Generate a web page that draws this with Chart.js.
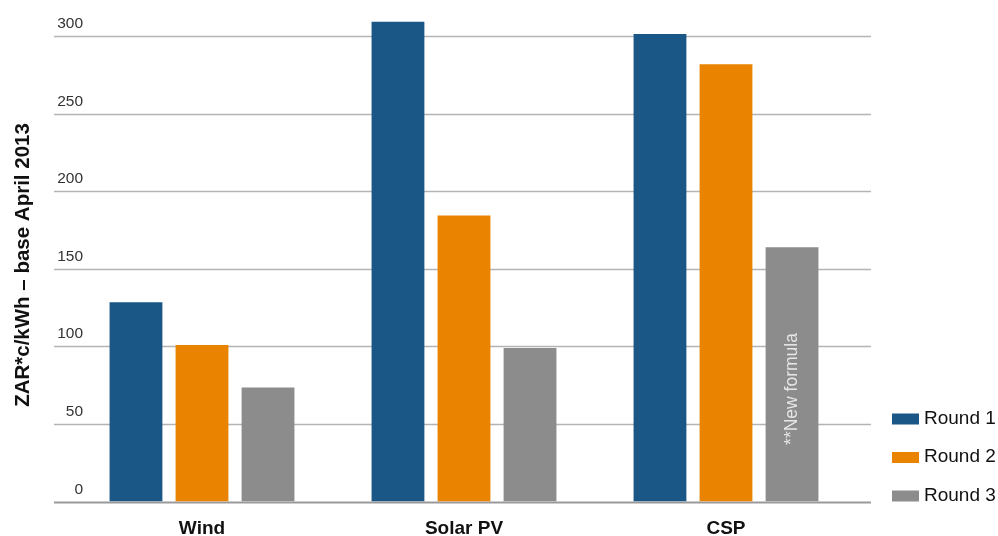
<!DOCTYPE html>
<html>
<head>
<meta charset="utf-8">
<script src="https://cdn.jsdelivr.net/npm/chart.js@4"></script>
<style>
  html, body { margin: 0; padding: 0; background: #fff; }
  #wrap { width: 998px; height: 536px; }
</style>
</head>
<body>
<div id="wrap"><canvas id="barChart" width="998" height="536"></canvas></div>
<script>
// data
const categories = ['Wind', 'Solar PV', 'CSP'];
const seriesNames = ['Round 1', 'Round 2', 'Round 3'];
const round1 = [128.5, 309.5, 301.5];
const round2 = [101, 184.5, 282];
const round3 = [73.5, 99, 164];
const yTicks = [0, 50, 100, 150, 200, 250, 300];
const yTitle = 'ZAR*c/kWh – base April 2013';
const barNote = '**New formula';

const colours = ['#1a5787', '#e98300', '#8c8c8d'];
const FONT = '"Liberation Sans", Arial, sans-serif';

// gridlines, tick labels, axis title, legend and note
const extras = {
    id: 'extras',
    beforeDatasetsDraw(chart) {
        const ctx = chart.ctx;
        const y = chart.scales.y;
        ctx.save();
        yTicks.forEach(v => {
            const py = Math.round(y.getPixelForValue(v)) + 0.5;
            ctx.strokeStyle = v === 0 ? '#9a9a9a' : '#b4b4b4';
            ctx.lineWidth = v === 0 ? 2 : 1.5;
            ctx.beginPath();
            ctx.moveTo(54, py);
            ctx.lineTo(871, py);
            ctx.stroke();
            ctx.fillStyle = '#333';
            ctx.font = '15.5px ' + FONT;
            ctx.textBaseline = 'alphabetic';
            ctx.textAlign = 'right';
            ctx.fillText(String(v), 83, py - 9);
        });
        // y title
        ctx.translate(23, 265);
        ctx.rotate(-Math.PI / 2);
        ctx.font = 'bold 20.5px ' + FONT;
        ctx.fillStyle = '#111';
        ctx.textAlign = 'center';
        ctx.textBaseline = 'middle';
        ctx.fillText(yTitle, 0, 0);
        ctx.restore();
    },
    afterDatasetsDraw(chart) {
        const ctx = chart.ctx;
        ctx.save();
        // note inside the CSP round 3 bar
        const bar = chart.getDatasetMeta(2).data[2];
        ctx.translate(bar.x, 389);
        ctx.rotate(-Math.PI / 2);
        ctx.font = '17.5px ' + FONT;
        ctx.fillStyle = '#e6e6e6';
        ctx.textAlign = 'center';
        ctx.textBaseline = 'middle';
        ctx.fillText(barNote, 0, 0);
        ctx.restore();

        // legend
        ctx.save();
        chart.data.datasets.forEach((ds, i) => {
            const cy = 418.5 + i * 38.5;
            ctx.fillStyle = ds.backgroundColor;
            ctx.fillRect(892, cy - 5, 27, 11);
            ctx.fillStyle = '#111';
            ctx.font = '19px ' + FONT;
            ctx.textAlign = 'left';
            ctx.textBaseline = 'middle';
            ctx.fillText(ds.label, 924, cy);
        });
        ctx.restore();
    }
};

const barData = {
    labels: categories,
    datasets: [round1, round2, round3].map((vals, i) => ({
        label: seriesNames[i],
        data: vals,
        backgroundColor: colours[i],
        categoryPercentage: 0.756,
        barPercentage: 0.80
    }))
};

const config = {
    type: 'bar',
    data: barData,
    options: {
        responsive: false,
        animation: false,
        layout: { padding: { left: 71, right: 141, top: 0, bottom: 0 } },
        plugins: {
            legend: { display: false },
            tooltip: { enabled: false }
        },
        scales: {
            x: {
                grid: { display: false },
                border: { display: false },
                ticks: {
                    color: '#111',
                    font: { family: FONT, size: 19, weight: 'bold' },
                    padding: 8
                },
                afterFit: s => { s.height = 34.5; }
            },
            y: {
                display: false,
                min: 0,
                max: 323.5
            }
        }
    },
    plugins: [extras]
};

var myBarChart = new Chart(document.getElementById('barChart'), config);
</script>
</body>
</html>
